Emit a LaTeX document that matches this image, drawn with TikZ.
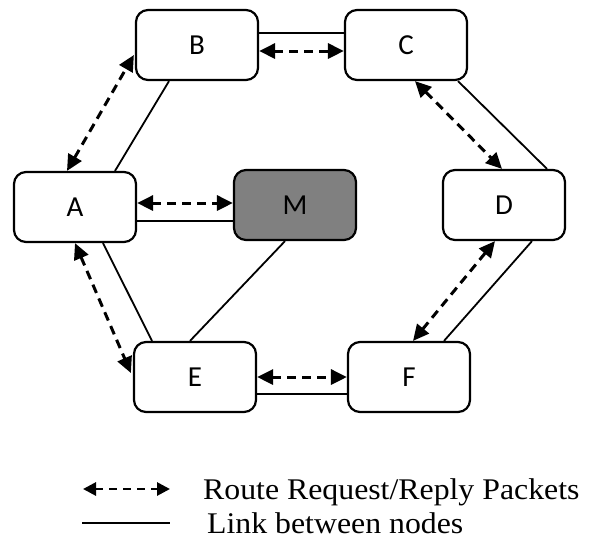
\documentclass[tikz,border=0pt]{standalone}
\usepackage{fontspec}
\setmainfont{Liberation Serif}
\newfontfamily\boxfont{Carlito}
\newfontfamily\legfont[FakeStretch=1.06]{Liberation Serif}
\usetikzlibrary{arrows.meta,calc}
\begin{document}
\begin{tikzpicture}[x=1pt,y=-1pt,
  nodebox/.style={draw,line width=2.2pt,rounded corners=12pt,minimum width=122pt,minimum height=70pt,inner sep=0pt,font=\boxfont\fontsize{29}{33}\selectfont,fill=white},
  link/.style={line width=1.8pt},
  msg/.style={line width=3pt,dash pattern=on 9pt off 6pt,{Triangle[length=16pt,width=15pt]}-{Triangle[length=16pt,width=15pt]}},
  legmsg/.style={line width=2.8pt,dash pattern=on 8pt off 6pt,{Triangle[length=13pt,width=13pt]}-{Triangle[length=13pt,width=13pt]}},
  legtext/.style={font=\legfont\fontsize{30}{34}\selectfont,anchor=base west,inner sep=0pt}]
\useasboundingbox (0,0) rectangle (593,539);
\node[nodebox] (B) at (197,45) {B};
\node[nodebox] (C) at (406,45) {C};
\node[nodebox] (A) at (75,207) {A};
\node[nodebox,fill={rgb,255:red,128;green,128;blue,128}] (M) at (295,205) {M};
\node[nodebox] (D) at (504,205) {D};
\node[nodebox] (E) at (195,377) {E};
\node[nodebox] (F) at (409,377) {F};
% links
\draw[link] ($(B.east)+(0,-12)$) -- ($(C.west)+(0,-12)$);
\draw[link] ($(A.east)+(0,14)$) -- ($(M.west)+(0,16)$);
\draw[link] ($(B.south)+(-28,0)$) -- ($(A.north)+(40,0)$);
\draw[link] ($(A.south)+(28,0)$) -- ($(E.north)+(-43,0)$);
\draw[link] ($(M.south)+(-10,0)$) -- ($(E.north)+(-5,0)$);
\draw[link] ($(E.east)+(0,17)$) -- ($(F.west)+(0,17)$);
\draw[link] ($(C.south)+(52,0)$) -- ($(D.north)+(43,0)$);
\draw[link] ($(D.south)+(28,0)$) -- ($(F.north)+(35,0)$);
% messages
\draw[msg] ($(B.east)+(0,6)$) -- ($(C.west)+(0,6)$);
\draw[msg] ($(A.east)+(0,-4)$) -- ($(M.west)+(0,-2)$);
\draw[msg] ($(A.north)+(-8,0)$) -- ($(B.west)+(-1,10)$);
\draw[msg] (A.south) -- ($(E.west)+(-2,-4)$);
\draw[msg] (E.east) -- (F.west);
\draw[msg] ($(C.south)+(9,0)$) -- ($(D.north)+(-2,0)$);
\draw[msg] ($(D.south)+(-9,0)$) -- ($(F.north)+(4,0)$);
% legend
\coordinate (l1) at (83,489);
\coordinate (l2) at (170,489);
\coordinate (l3) at (82,523);
\coordinate (l4) at (170,523);
\draw[legmsg] (l1) -- (l2);
\draw[link] (l3) -- (l4);
\node[legtext] (t1) at (203,499) {Route Request/Reply Packets};
\node[legtext] (t2) at (207,533) {Link between nodes};
\end{tikzpicture}
\end{document}
